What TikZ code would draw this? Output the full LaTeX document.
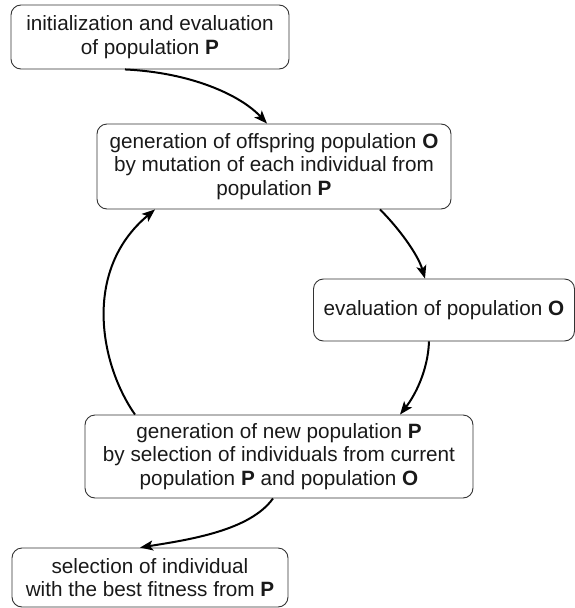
\documentclass[tikz,border=0pt]{standalone}
\usepackage{fontspec}
\setmainfont{Liberation Sans}
\usetikzlibrary{arrows.meta}
\tikzset{
  box/.style={draw=black!80, line width=0.9pt, rounded corners=10pt, align=center,
    inner sep=0pt, text=black!90, font=\fontsize{20.7}{23.5}\selectfont},
  conn/.style={line width=2pt, -{Stealth[length=13pt,width=10pt,inset=3pt]}}
}
\begin{document}
\begin{tikzpicture}[x=1pt,y=-1pt]
\useasboundingbox (0,0) rectangle (575,608);
\node[box, minimum width=278pt, minimum height=64pt] (b1) at (150,37)
  {initialization and evaluation\\of population \textbf{P}};
\node[box, minimum width=354pt, minimum height=85pt] (b2) at (274,166.5)
  {generation of offspring population \textbf{O}\\by mutation of each individual from\\population \textbf{P}};
\node[box, minimum width=261pt, minimum height=62pt] (b3) at (444,310)
  {evaluation of population \textbf{O}};
\node[box, minimum width=388pt, minimum height=83pt] (b4) at (279,456.5)
  {generation of new population \textbf{P}\\by selection of individuals from current\\population \textbf{P} and population \textbf{O}};
\node[box, minimum width=276pt, minimum height=59pt] (b5) at (150,577.5)
  {selection of individual\\with the best fitness from \textbf{P}};
\draw[conn] ([xshift=-25pt]b1.south) .. controls +(65,3) and +(-27,-29) .. ([xshift=-7pt]b2.north);
\draw[conn] ([xshift=106pt]b2.south) .. controls +(19,19) and +(-7,-24) .. ([xshift=-19pt]b3.north);
\draw[conn] ([xshift=-15pt]b3.south) .. controls +(-1,29) and +(15,-19) .. ([xshift=121pt]b4.north);
\draw[conn] ([xshift=-144pt]b4.north) .. controls +(-35,-50) and +(-73,61) .. ([xshift=-119pt]b2.south);
\draw[conn] ([xshift=-6pt]b4.south) .. controls +(-23,32) and +(50,-8) .. ([xshift=-10pt]b5.north);
\end{tikzpicture}
\end{document}
